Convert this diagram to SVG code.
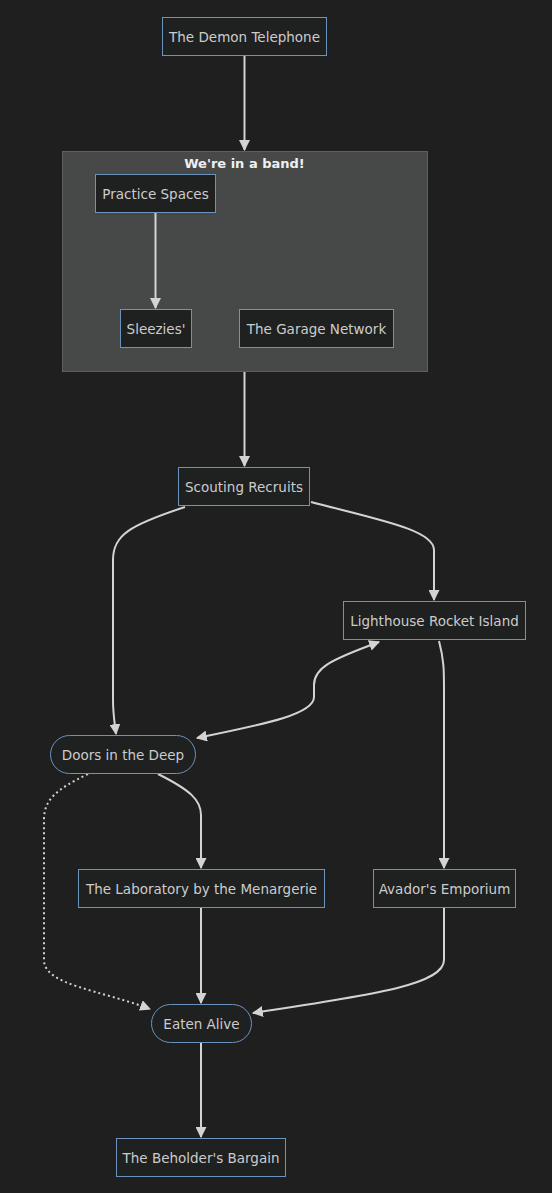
<svg xmlns="http://www.w3.org/2000/svg" width="552" height="1193" viewBox="0 0 552 1193">
<style>
.bg{fill:#1f1f1f}
.n rect{fill:#1f2020;stroke:#6a93bd;stroke-width:1}
.n text{font-family:"DejaVu Sans",sans-serif;font-size:13.5px;fill:#cccccc;text-anchor:middle;dominant-baseline:central}
.cl{fill:#474949;stroke:#5e5e5e;stroke-width:1}
.ct{font-family:"DejaVu Sans",sans-serif;font-size:13px;font-weight:bold;fill:#f0f0f0;text-anchor:middle;dominant-baseline:central}
.e{fill:none;stroke:#d3d3d3;stroke-width:2}
.d{stroke-dasharray:2 3}
</style>
<defs>
<marker id="ah" viewBox="0 0 10 10" refX="9" refY="5" markerWidth="11" markerHeight="11" orient="auto-start-reverse" markerUnits="userSpaceOnUse">
<path d="M0,0 L10,5 L0,10 z" fill="#d3d3d3"/>
</marker>
</defs>
<rect class="bg" x="0" y="0" width="552" height="1193"/>
<g id="cluster-band">
<rect class="cl" x="62.5" y="151.5" width="365" height="220"/>
<text class="ct" x="244.5" y="163">We're in a band!</text>
</g>
<g id="edges">
<path class="e" d="M244.5,55 L244.5,150" marker-end="url(#ah)"/>
<path class="e" d="M155.5,213 L155.5,308" marker-end="url(#ah)"/>
<path class="e" d="M244.5,372 L244.5,466" marker-end="url(#ah)"/>
<path class="e" d="M185,507 C130,525 113,535 113,560 L113,700 C113,715 115,725 116,734" marker-end="url(#ah)"/>
<path class="e" d="M311,502 C380,520 434,530 434,550 L434,600" marker-end="url(#ah)"/>
<path class="e" d="M379,642 C330,660 314,668 314,685 L314,697 C314,715 260,725 197,738" marker-start="url(#ah)" marker-end="url(#ah)"/>
<path class="e" d="M439,641 C444,660 444,670 444,690 L444,868" marker-end="url(#ah)"/>
<path class="e" d="M158,774 C190,790 201,800 201,815 L201,868" marker-end="url(#ah)"/>
<path class="e d" d="M88,774 C55,790 44,800 44,820 L44,960 C44,985 100,990 150,1009" marker-end="url(#ah)"/>
<path class="e" d="M201,908 L201,1003" marker-end="url(#ah)"/>
<path class="e" d="M444,908 L444,960 C444,985 370,995 253,1013" marker-end="url(#ah)"/>
<path class="e" d="M201,1043 L201,1137" marker-end="url(#ah)"/>
</g>
<g id="node-demon" class="n"><rect x="162.5" y="17.5" width="164" height="38"/><text x="244.5" y="36.5">The Demon Telephone</text></g>
<g id="node-practice" class="n"><rect x="95.5" y="174.5" width="120" height="38"/><text x="155.5" y="193.5">Practice Spaces</text></g>
<g id="node-sleezies" class="n"><rect x="120.5" y="309.5" width="71" height="38"/><text x="156" y="328.5">Sleezies'</text></g>
<g id="node-garage" class="n"><rect x="239.5" y="309.5" width="154" height="38"/><text x="316.5" y="328.5">The Garage Network</text></g>
<g id="node-scouting" class="n"><rect x="178.5" y="467.5" width="131" height="38"/><text x="244" y="486.5">Scouting Recruits</text></g>
<g id="node-lighthouse" class="n"><rect x="343.5" y="601.5" width="182" height="38"/><text x="434.5" y="620.5">Lighthouse Rocket Island</text></g>
<g id="node-doors" class="n"><rect x="50.5" y="735.5" width="145" height="38" rx="19" ry="19"/><text x="123" y="754.5">Doors in the Deep</text></g>
<g id="node-lab" class="n"><rect x="78.5" y="869.5" width="246" height="38"/><text x="201.5" y="888.5">The Laboratory by the Menargerie</text></g>
<g id="node-avador" class="n"><rect x="373.5" y="869.5" width="142" height="38"/><text x="444.5" y="888.5">Avador's Emporium</text></g>
<g id="node-eaten" class="n"><rect x="151.5" y="1004.5" width="100" height="38" rx="19" ry="19"/><text x="201.5" y="1023.5">Eaten Alive</text></g>
<g id="node-beholder" class="n"><rect x="116.5" y="1138.5" width="169" height="38"/><text x="201" y="1157.5">The Beholder's Bargain</text></g>
</svg>
